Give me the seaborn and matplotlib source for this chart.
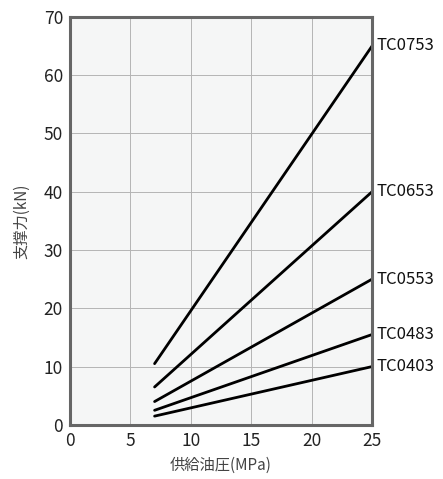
import pandas as pd
import matplotlib.pyplot as plt
import seaborn as sns

# supply pressure (MPa) at both ends of each line
pressure = [7, 25]
models = ['TC0753', 'TC0653', 'TC0553', 'TC0483', 'TC0403']
force_0753 = [10.5, 65]
force_0653 = [6.5, 40]
force_0553 = [4, 25]
force_0483 = [2.5, 15.5]
force_0403 = [1.5, 10]

forces = [force_0753, force_0653, force_0553, force_0483, force_0403]
rows = []
for m, f in zip(models, forces):
    for p, v in zip(pressure, f):
        rows.append({'pressure': p, 'force': v, 'model': m})
df = pd.DataFrame(rows)

sns.set_style('white')
plt.rcParams['font.family'] = ['Noto Sans CJK JP', 'DejaVu Sans']

fig = plt.figure(figsize=(4.43, 4.79), dpi=100)
ax = fig.add_axes([0.158, 0.113, 0.682, 0.852])
ax.set_facecolor('#f5f6f6')

sns.lineplot(data=df, x='pressure', y='force', hue='model',
             palette=['black'] * len(models), linewidth=2, legend=False, ax=ax)

ax.set_xlim(0, 25)
ax.set_ylim(0, 70)
ax.set_xticks(range(0, 26, 5))
ax.set_yticks(range(0, 71, 10))
ax.grid(True, color='#b4b4b4', linewidth=0.7)
ax.tick_params(length=0, labelsize=12.5, colors='#222222', pad=5)
for s in ax.spines.values():
    s.set_color('#666666')
    s.set_linewidth(2.2)

ax.set_xlabel('供給油圧(MPa)', fontsize=11, color='#444444', labelpad=5)
ax.set_ylabel('支撑力(kN)', fontsize=11, color='#444444', labelpad=10)

for m, f in zip(models, forces):
    ax.text(25.4, f[-1], m, fontsize=12, va='center', ha='left',
            color='#111111', clip_on=False)

fig.savefig('out.png', dpi=100)
